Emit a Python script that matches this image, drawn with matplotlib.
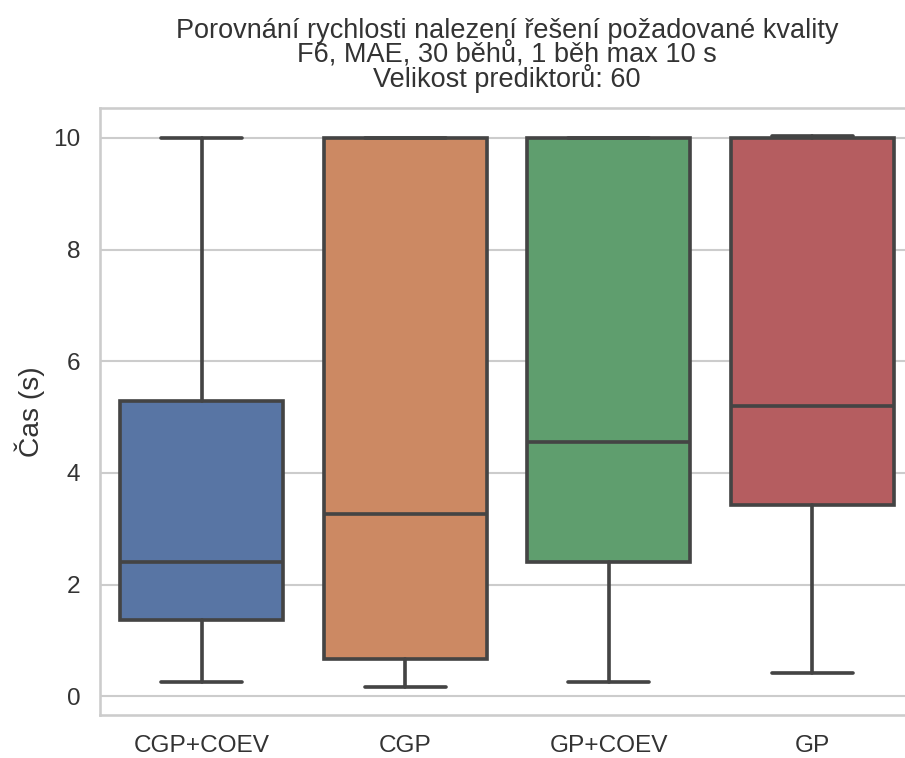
import matplotlib
matplotlib.use("Agg")
import matplotlib.pyplot as plt
import seaborn as sns

categories = ["CGP+COEV", "CGP", "GP+COEV", "GP"]
whislo = [0.25, 0.16, 0.25, 0.42]
q1 = [1.37, 0.67, 2.40, 3.42]
median = [2.40, 3.26, 4.56, 5.20]
q3 = [5.29, 10.0, 10.0, 10.0]
whishi = [10.0, 10.0, 10.0, 10.04]
colors = ["#5875a4", "#cc8963", "#5f9e6e", "#b55d60"]

title = ("Porovnání rychlosti nalezení řešení požadované kvality\n"
         "F6, MAE, 30 běhů, 1 běh max 10 s\n"
         "Velikost prediktorů: 60")
ylabel = "Čas (s)"

sns.set_theme(style="whitegrid", context="notebook")
plt.rcParams['font.family'] = ['Liberation Sans', 'DejaVu Sans']

fig = plt.figure(figsize=(905 / 150, 758 / 150), dpi=150)
ax = fig.add_axes([100 / 905, 43 / 758, 814 / 905, 607 / 758])

stats = []
for i, c in enumerate(categories):
    stats.append(dict(label=c, whislo=whislo[i], q1=q1[i], med=median[i],
                      q3=q3[i], whishi=whishi[i], fliers=[]))

line_col = "#444444"
lw = 1.75
bp = ax.bxp(stats, positions=range(len(categories)), widths=0.8,
            patch_artist=True, showfliers=False,
            boxprops=dict(edgecolor=line_col, linewidth=lw),
            medianprops=dict(color=line_col, linewidth=lw),
            whiskerprops=dict(color=line_col, linewidth=lw),
            capprops=dict(color=line_col, linewidth=lw))
for patch, col in zip(bp["boxes"], colors):
    patch.set_facecolor(col)

ax.set_xlim(-0.5, len(categories) - 0.5)
lo = min(whislo)
hi = max(whishi)
pad = 0.05 * (hi - lo)
ax.set_ylim(lo - pad, hi + pad)
ax.set_yticks([0, 2, 4, 6, 8, 10])
ax.set_xticks(range(len(categories)))
ax.set_xticklabels(categories)
ax.xaxis.grid(False)
ax.set_axisbelow(True)
ax.set_ylabel(ylabel, fontsize=13.5, color="#333333")
ax.set_title(title, fontsize=13, linespacing=0.86, color="#333333", pad=10)
ax.tick_params(labelsize=11.7, colors="#333333")

fig.savefig("out.png", dpi=150)
